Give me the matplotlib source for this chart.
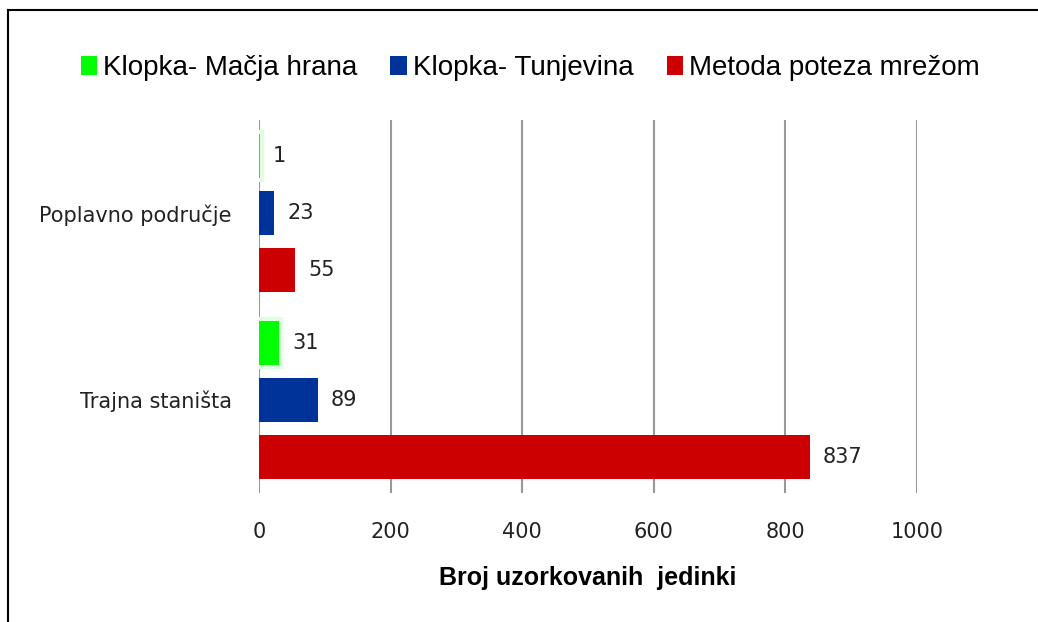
import matplotlib
matplotlib.use("Agg")
import matplotlib.pyplot as plt
import matplotlib.patheffects as pe
import numpy as np

categories = ['Poplavno područje', 'Trajna staništa']
series = ['Klopka- Mačja hrana', 'Klopka- Tunjevina', 'Metoda poteza mrežom']
macja_hrana = [1, 31]
tunjevina = [23, 89]
mreza = [55, 837]
colors = ['#00ff00', '#003399', '#cc0000']

fig = plt.figure(figsize=(10.38, 6.22), dpi=100)
ax = fig.add_axes([259/1038, 1 - 493/622, (917-259)/1038, (493-120)/622])

y = np.arange(len(categories))
step = 0.305
height = 0.235
values = [macja_hrana, tunjevina, mreza]
green_bars = None
for i, (name, vals, c) in enumerate(zip(series, values, colors)):
    pos = y + (i - 1) * step
    bars = ax.barh(pos, vals, height=height, color=c, label=name, zorder=3)
    if i == 0:
        green_bars = bars
    for p, v in zip(pos, vals):
        ax.text(v + 20, p, str(v), va='center', ha='left', fontsize=15,
                color='#222222', family='DejaVu Sans')

ax.set_xlim(0, 1000)
ax.set_ylim(1.5, -0.5)
ax.set_xticks([0, 200, 400, 600, 800, 1000])
ax.set_yticks(y)
ax.set_yticklabels(categories, fontsize=15, family='DejaVu Sans', color='#222222')
ax.tick_params(axis='x', labelsize=15, length=0, pad=21, colors='#222222')
ax.tick_params(axis='y', length=0, pad=19.5)
ax.xaxis.grid(True, color='#999999', linewidth=1.5, zorder=0)
for s in ax.spines.values():
    s.set_visible(False)
ax.set_xlabel('Broj uzorkovanih  jedinki', fontsize=18, fontweight='bold',
              family='Liberation Sans', labelpad=17)

leg = fig.legend(loc='center', bbox_to_anchor=(530/1038, 1 - 68/622), ncol=3,
                 frameon=False, handlelength=0.6, handleheight=0.7, handletextpad=0.2,
                 columnspacing=1.2, prop={'family': 'Liberation Sans', 'size': 20})

# soft glow around the green bars
for b in green_bars:
    b.set_path_effects([pe.withStroke(linewidth=6, foreground='#ddffdd'), pe.Normal()])

# frame lines (top and left)
fig.add_artist(plt.Line2D([8/1038, 1], [1 - 10/622, 1 - 10/622], color='black', linewidth=1.5, transform=fig.transFigure))
fig.add_artist(plt.Line2D([8/1038, 8/1038], [0, 1 - 10/622], color='black', linewidth=1.5, transform=fig.transFigure))

fig.savefig('out.png', dpi=100)
